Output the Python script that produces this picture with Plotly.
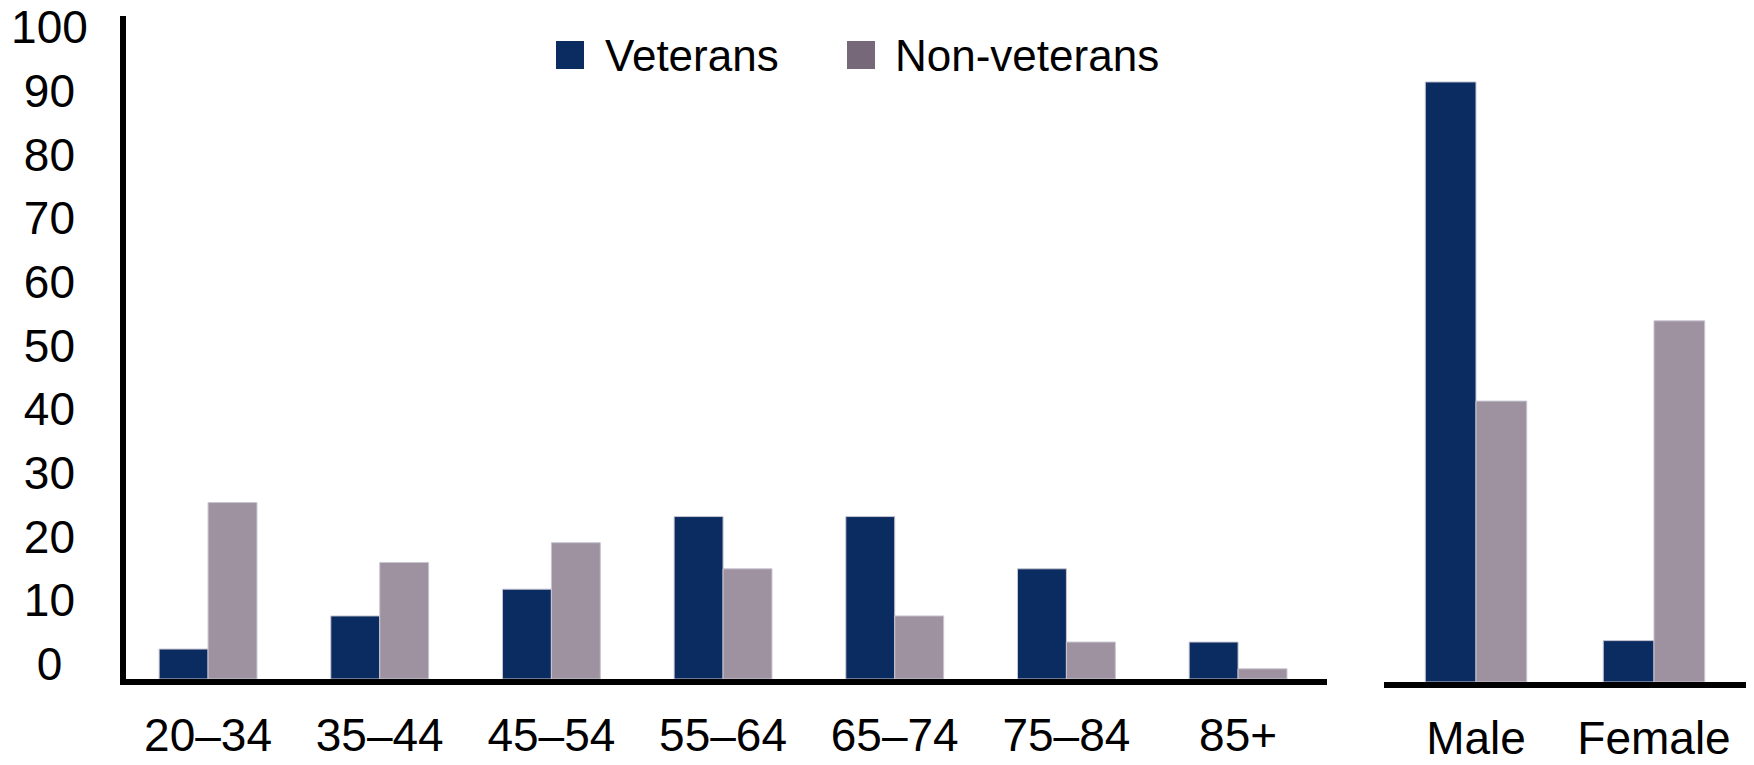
import plotly.graph_objects as go

# data (percent)
age_groups = ["20–34", "35–44", "45–54", "55–64", "65–74", "75–84", "85+"]
sexes = ["Male", "Female"]
series = ["Veterans", "Non-veterans"]

veterans_age = [4.7, 9.9, 14.1, 25.5, 25.5, 17.3, 5.8]
nonveterans_age = [27.7, 18.3, 21.4, 17.3, 9.9, 5.8, 1.6]
veterans_sex = [94.2, 6.5]
nonveterans_sex = [44.1, 56.7]

y_ticks = list(range(0, 101, 10))

# body margin is removed below, so the figure fills the window from (0, 0)
OFF = 0
W, H = 1754, 765
FONT = "Liberation Sans, Arial, sans-serif"
bar_colors = ["#0a2c60", "#9e91a0"]
swatch_colors = ["#0a2c60", "#776879"]


def fx(p):
    return (p - OFF) / W


def fy(p):
    return 1 - (p - OFF) / H


# pad labels so they look centred like the original
def pad(v):
    n = 3 - len(str(v))
    return str(v) + "\u00a0" * n


fig = go.Figure()

for name, vals, col in zip(series, [veterans_age, nonveterans_age], bar_colors):
    fig.add_trace(go.Bar(x=age_groups, y=vals, name=name, marker_color=col,
                         marker_line=dict(color="#c9c6d2", width=1),
                         xaxis="x", yaxis="y", showlegend=False))

for name, vals, col in zip(series, [veterans_sex, nonveterans_sex], bar_colors):
    fig.add_trace(go.Bar(x=sexes, y=vals, name=name, marker_color=col,
                         marker_line=dict(color="#c9c6d2", width=1),
                         xaxis="x2", yaxis="y2", showlegend=False))

axis_font = dict(family=FONT, size=46, color="black")
yrange = [0, (679 - 16) / 6.37]

fig.update_layout(
    width=W, height=H,
    margin=dict(l=0, r=0, t=0, b=0),
    paper_bgcolor="white", plot_bgcolor="white",
    barmode="group", bargap=0.43, bargroupgap=0,
    showlegend=False,
    font=dict(family=FONT, color="black"),
    xaxis=dict(domain=[fx(126), fx(1327)], anchor="y", range=[-0.478, 6.518],
               showline=True, linewidth=6, linecolor="black", ticks="",
               showgrid=False, zeroline=False, tickfont=axis_font,
               ticklabelstandoff=11, automargin=False),
    yaxis=dict(domain=[fy(679), fy(16)], anchor="x", range=yrange,
               showline=True, linewidth=6, linecolor="black", ticks="",
               tickvals=y_ticks, ticktext=[pad(v) for v in y_ticks],
               ticklabelshift=-15, ticklabelstandoff=23, automargin=False,
               ticklabeloverflow="allow",
               showgrid=False, zeroline=False, tickfont=axis_font),
    xaxis2=dict(domain=[fx(1384), fx(1746)], anchor="y2", range=[-0.517, 1.517],
                showline=True, linewidth=6, linecolor="black", ticks="",
                showgrid=False, zeroline=False, tickfont=axis_font,
                ticklabelstandoff=11, automargin=False),
    yaxis2=dict(domain=[fy(682), fy(19)], anchor="x2", range=yrange,
                visible=False, showgrid=False, zeroline=False, automargin=False),
)

# legend drawn by hand so the swatches can be large
legend_x = [(556, 603), (847, 893)]
for (sx, tx), name, col in zip(legend_x, series, swatch_colors):
    fig.add_shape(type="rect", xref="paper", yref="paper",
                  x0=fx(sx), x1=fx(sx + 28), y0=fy(69), y1=fy(41),
                  fillcolor=col, line_width=0)
    fig.add_annotation(xref="paper", yref="paper", x=fx(tx), y=fy(56),
                       xanchor="left", yanchor="middle", showarrow=False,
                       text=name, font=dict(family=FONT, size=44, color="black"))

fig.write_html("out.html", config={"displayModeBar": False},
               post_script="document.body.style.margin = '0';")
